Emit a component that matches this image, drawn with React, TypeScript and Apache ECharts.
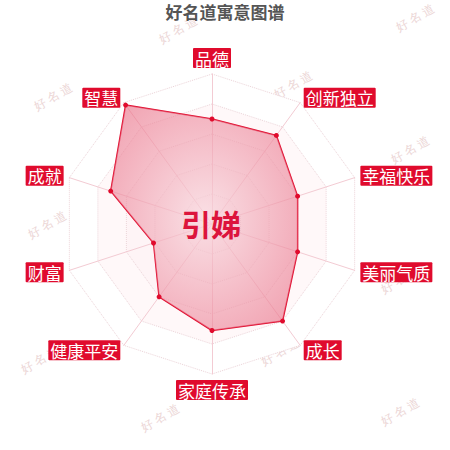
import { useEffect, useRef } from 'react';
import * as echarts from 'echarts';

// 指标（逆时针顺序，从顶部开始）
const indicatorNames = ['品德', '智慧', '成就', '财富', '健康平安', '家庭传承', '成长', '美丽气质', '幸福快乐', '创新独立'];
const scores = [70, 98, 71, 41, 60, 71, 80, 60, 60, 73];
const maxScore = 100;
const personName = '引娣';
const chartTitle = '好名道寓意图谱';
const watermarkText = '好 名 道';

// 水印位置（装饰）
const watermarkSpots: [number, number][] = [
  [178, 30], [415, 18], [53, 97], [293, 85], [180, 150], [410, 150], [47, 225],
  [293, 210], [150, 292], [400, 280], [40, 360], [280, 352], [160, 418], [400, 412],
];

const CENTER: [number, number] = [212, 224];
const RADIUS = 150;

const App: React.FC = () => {
  const chartRef = useRef<HTMLDivElement>(null);

  useEffect(() => {
    if (!chartRef.current) return;
    const chart = echarts.init(chartRef.current, undefined, { renderer: 'svg' });

    const option: echarts.EChartsOption = {
      animation: false,
      backgroundColor: '#fff',
      title: {
        text: chartTitle,
        left: 'center',
        top: 2,
        padding: 0,
        textStyle: {
          fontSize: 17,
          lineHeight: 19,
          fontWeight: 'bold',
          color: '#555',
          fontFamily: 'Noto Sans CJK SC',
        },
      },
      graphic: [
        ...watermarkSpots.map(([x, y]) => ({
          type: 'text' as const,
          x,
          y,
          rotation: Math.PI / 6,
          z: -10,
          style: {
            text: watermarkText,
            fill: '#ecd6d6',
            fontSize: 12,
            fontFamily: 'serif',
            align: 'center' as const,
            verticalAlign: 'middle' as const,
          },
        })),
        {
          type: 'text',
          x: CENTER[0] - 1,
          y: CENTER[1] - 1,
          z: 100,
          style: {
            text: personName,
            fill: '#dc143c',
            fontSize: 30,
            fontWeight: 'bold',
            fontFamily: 'Noto Sans CJK SC',
            align: 'center',
            verticalAlign: 'middle',
          },
        },
      ],
      radar: {
        center: CENTER,
        radius: RADIUS,
        startAngle: 90,
        splitNumber: 5,
        nameGap: 6,
        indicator: indicatorNames.map(name => ({ name, max: maxScore })),
        axisName: {
          color: '#fff',
          backgroundColor: '#e00b2d',
          fontSize: 17,
          lineHeight: 18,
          padding: [1, 2],
          borderRadius: 1,
          fontFamily: 'Noto Sans CJK SC',
        },
        splitLine: { lineStyle: { color: '#ecd3d8', type: 'dotted', width: 1 } },
        splitArea: {
          areaStyle: {
            color: ['#fdeef1', '#fdf1f3', '#fef4f6', '#fff8f9', '#ffffff'],
          },
        },
        axisLine: { lineStyle: { color: '#f3cbd3' } },
      },
      series: [
        {
          type: 'radar',
          symbol: 'circle',
          symbolSize: 5,
          itemStyle: { color: '#e00b2d' },
          lineStyle: { color: '#e00b2d', width: 1.5 },
          areaStyle: {
            color: new echarts.graphic.RadialGradient(0.5, 0.5, 0.7, [
              { offset: 0, color: 'rgba(248, 215, 222, 0.9)' },
              { offset: 1, color: 'rgba(231, 100, 125, 0.88)' },
            ]),
          },
          data: [{ value: scores, name: personName }],
        },
      ],
    };

    chart.setOption(option);
    return () => chart.dispose();
  }, []);

  return (
    <div
      ref={chartRef}
      style={{ position: 'absolute', left: 0, top: 0, width: '450px', height: '450px' }}
    />
  );
};

export default App;
